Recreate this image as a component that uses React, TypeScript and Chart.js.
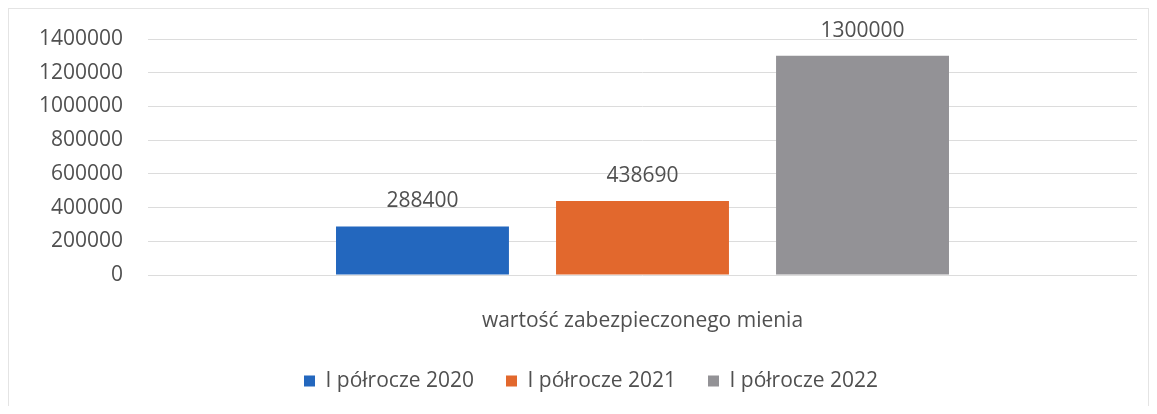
import React, { useEffect, useRef } from "react";
import { Chart, registerables } from "chart.js";

Chart.register(...registerables);

const categories = ["wartość zabezpieczonego mienia"];
const seriesNames = ["I półrocze 2020", "I półrocze 2021", "I półrocze 2022"];
const series2020 = [288400];
const series2021 = [438690];
const series2022 = [1300000];
const seriesColors = ["#2367BE", "#E2682D", "#939296"];
const yMin = 0;
const yMax = 1400000;
const yStep = 200000;

const TEXT = "#505050";
const FONT = "'Open Sans', sans-serif";

const dataLabels = {
  id: "dataLabels",
  afterDatasetsDraw(chart: any) {
    const ctx = chart.ctx;
    ctx.save();
    ctx.font = `21px ${FONT}`;
    ctx.fillStyle = TEXT;
    ctx.textAlign = "center";
    ctx.textBaseline = "middle";
    chart.data.datasets.forEach((ds: any, i: number) => {
      const meta = chart.getDatasetMeta(i);
      meta.data.forEach((el: any, j: number) => {
        ctx.fillText(String(ds.data[j]), el.x, el.y - 25);
      });
    });
    ctx.restore();
  },
};

// the reference legend sits slightly right of the canvas centre
const legendShift = {
  id: "legendShift",
  afterLayout(chart: any) {
    if (chart.legend) chart.legend.left += 36;
  },
};

export default function App() {
  const ref = useRef<HTMLCanvasElement | null>(null);
  useEffect(() => {
    if (!ref.current) return;
    const values = [series2020, series2021, series2022];
    const chart = new Chart(ref.current, {
      type: "bar",
      data: {
        labels: categories,
        datasets: seriesNames.map((name, i) => ({
          label: name,
          data: values[i],
          backgroundColor: seriesColors[i],
          borderWidth: 0,
          categoryPercentage: 0.6674,
          barPercentage: 0.786,
        })),
      },
      options: {
        animation: false,
        responsive: false,
        maintainAspectRatio: false,
        layout: { padding: { top: 30, right: 11, left: 0, bottom: 4.5 } },
        plugins: {
          legend: {
            position: "bottom",
            labels: {
              boxWidth: 11,
              boxHeight: 11,
              padding: 32,
              color: TEXT,
              font: { family: FONT, size: 21 },
            },
          },
          tooltip: { enabled: false },
        },
        scales: {
          x: {
            grid: { display: false, drawTicks: false },
            border: { display: false },
            ticks: { color: TEXT, font: { family: FONT, size: 21 }, padding: 33 },
            afterFit: (s: any) => {
              s.height = 63.5;
            },
          },
          y: {
            min: yMin,
            max: yMax,
            ticks: {
              stepSize: yStep,
              color: TEXT,
              font: { family: FONT, size: 21 },
              padding: 0,
              callback: (v: any) => String(v),
            },
            grid: {
              color: "#dcdcdc",
              drawTicks: true,
              tickLength: 25,
              tickColor: "rgba(0,0,0,0)",
              lineWidth: 1,
            },
            border: { display: false },
            afterFit: (s: any) => {
              s.width = 139;
            },
          },
        },
      },
      plugins: [dataLabels, legendShift],
    });
    return () => chart.destroy();
  }, []);
  return (
    <div
      style={{
        width: 1141,
        height: 398,
        boxSizing: "border-box",
        borderTop: "1px solid #e4e4e4",
        borderLeft: "1px solid #e4e4e4",
        borderRight: "1px solid #e4e4e4",
        background: "#fff",
      }}
    >
      <canvas ref={ref} width={1139} height={397} style={{ display: "block" }} />
    </div>
  );
}
